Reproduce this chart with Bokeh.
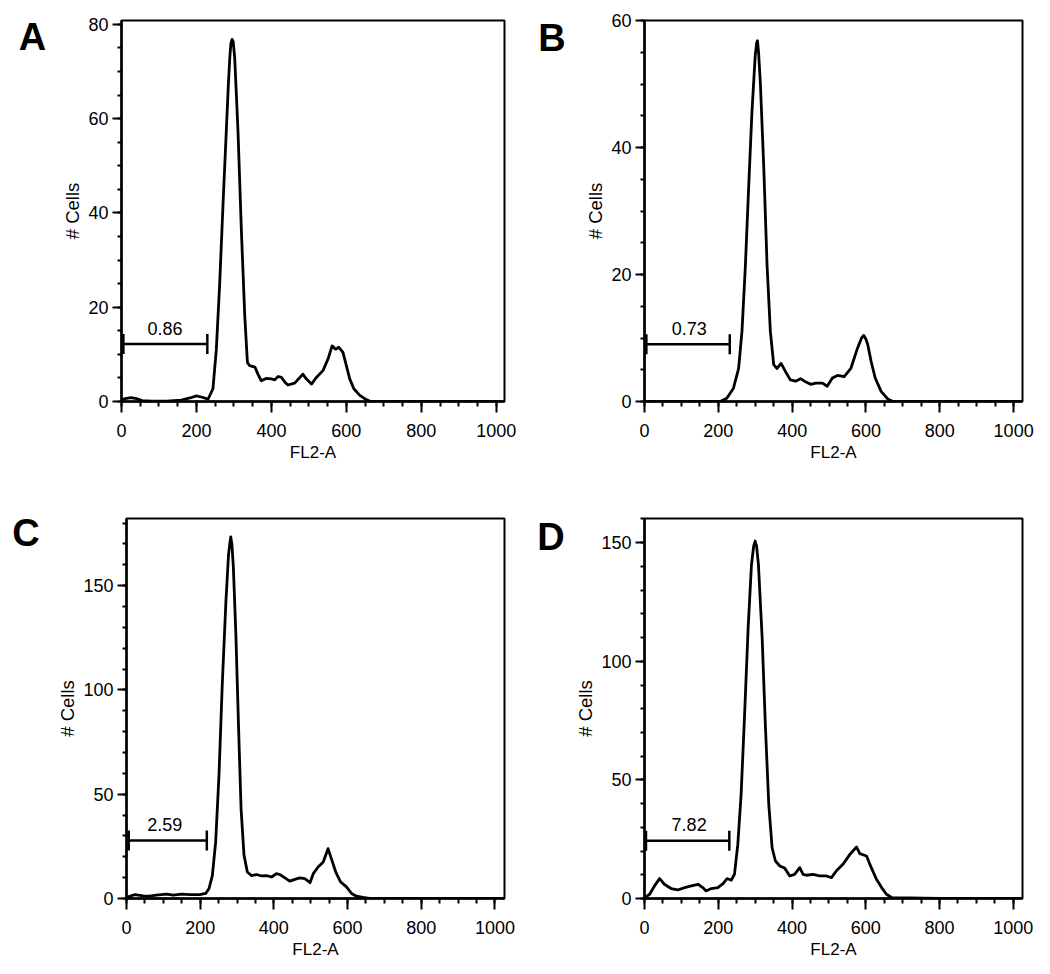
import math
from bokeh.plotting import figure
from bokeh.layouts import column, row
from bokeh.models import FixedTicker, Range1d
from bokeh.core.properties import value
from bokeh.embed import file_html
from bokeh.resources import INLINE

FONT = "Liberation Sans"

# ---------------- data ----------------
x_major = [0, 200, 400, 600, 800, 1000]
x_minor = list(range(0, 1001, 50))

# Panel A
a_x = [0, 10, 25, 40, 55, 80, 120, 160, 185, 200, 215, 231, 244, 253, 262, 271,
       280, 285, 289, 292, 295, 298, 302, 306, 311, 320, 329, 336, 342, 356, 364,
       373, 387, 400, 409, 418, 427, 436, 444, 462, 476, 484, 493, 507, 520, 538,
       551, 562, 571, 580, 591, 600, 609, 620, 636, 653, 665, 700, 800, 900, 1000, 1018]
a_y = [0.3, 0.6, 0.8, 0.6, 0.2, 0.1, 0.1, 0.3, 0.8, 1.2, 0.9, 0.5, 2.7, 11, 25, 42,
       58, 67, 73, 76, 76.8, 76.3, 73, 66, 57, 36, 18, 8.3, 7.6, 7.3, 5.8,
       4.4, 4.9, 4.8, 4.6, 5.3, 5.1, 4.1, 3.5, 3.9, 5.1, 5.8, 4.8, 3.7, 5.1, 6.6,
       9, 11.8, 11.1, 11.5, 10.4, 7.6, 4.8, 2.7, 1.3, 0.4, 0, 0, 0, 0, 0, 0]
a_y_major = [0, 20, 40, 60, 80]
a_y_minor = list(range(0, 81, 5))
a_gate = [5, 229, 12.2]
a_gate_label = "0.86"
a_gate_label_x = 116

# Panel B
b_x = [0, 100, 205, 223, 241, 255, 264, 273, 282, 291, 300, 304, 306, 309, 314, 323,
       332, 341, 350, 359, 370, 382, 395, 409, 423, 436, 450, 464, 482, 495, 509,
       523, 541, 559, 577, 588, 594, 600, 605, 614, 625, 641, 659, 673, 800, 1000, 1020]
b_y = [0, 0, 0, 0.5, 2.1, 5.2, 11, 21, 33.5, 45.5, 54.5, 56.5, 56.8, 55, 50, 37,
       21.5, 11, 5.8, 5.2, 6, 4.7, 3.4, 3.2, 3.6, 3.1, 2.7, 2.9, 2.9, 2.4, 3.7,
       4.1, 3.9, 5.2, 8.4, 10, 10.4, 9.8, 8.9, 6.3, 3.7, 1.6, 0.4, 0, 0, 0, 0]
b_y_major = [0, 20, 40, 60]
b_y_minor = list(range(0, 61, 5))
b_gate = [5, 231, 9.0]
b_gate_label = "0.73"
b_gate_label_x = 121

# Panel C
c_x = [0, 5, 23, 45, 63, 81, 109, 127, 149, 172, 199, 215, 224, 233, 242, 251, 260,
       270, 277, 281, 283, 286, 290, 297, 304, 311, 319, 328, 339, 353, 367, 380,
       394, 407, 416, 430, 443, 457, 470, 484, 498, 507, 520, 534, 547, 556, 568,
       581, 597, 611, 624, 642, 660, 800, 1000, 1022]
c_y = [0.8, 0.8, 1.9, 1.3, 1.1, 1.6, 2.1, 1.6, 2.1, 1.9, 1.9, 2.4, 4.8, 11, 27, 59, 103,
       143, 165, 171, 173.4, 170, 159, 126, 83, 43, 20.7, 12.7, 11, 11.5, 10.8, 11,
       10.3, 11.9, 11.5, 9.9, 8.3, 9.2, 9.9, 9.5, 7.6, 11.9, 15.1, 17.5, 23.9, 19.1, 12.7,
       8, 5.6, 2.4, 1.1, 0.5, 0, 0, 0, 0]
c_y_major = [0, 50, 100, 150]
c_y_minor = list(range(0, 181, 10))
c_gate = [6, 218, 27.8]
c_gate_label = "2.59"
c_gate_label_x = 104

# Panel D
d_x = [0, 14, 27, 41, 54, 72, 90, 109, 127, 145, 158, 167, 181, 199, 213, 224, 235,
       244, 253, 262, 271, 281, 290, 296, 300, 304, 309, 319, 328, 337, 346, 355,
       367, 380, 394, 407, 421, 430, 439, 457, 475, 493, 507, 520, 538, 557, 575,
       584, 602, 615, 629, 643, 656, 670, 800, 1000, 1021]
d_y = [0.4, 1.8, 5.3, 8.4, 6, 4.2, 3.6, 4.6, 5.3, 6, 4.6, 3.2, 4.2, 4.6, 6.3, 8.4, 7.7,
       10.2, 22.8, 43.9, 76, 114, 140.6, 148.5, 150.7, 148.5, 140.6, 110, 72, 39.7, 21.4, 15.8,
       13.7, 12.8, 9.5, 10.2, 13, 10.2, 9.8, 10.2, 9.5, 9.5, 8.8, 11.6, 14.4, 18.6, 21.7,
       18.9, 17.9, 13, 8.1, 4.6, 1.8, 0.4, 0, 0, 0]
d_y_major = [0, 50, 100, 150]
d_y_minor = list(range(0, 161, 10))
d_gate = [4, 230, 24.3]
d_gate_label = "7.82"
d_gate_label_x = 121

# ---------------- layout (pixels) ----------------
LW = 50  # width of the column holding the panel letter
# letter = (centre x within its column, centre y measured from the row top)
specs = {
    "A": dict(w=470, h=470, bl=71, br=16, bt=19, bb=69, xe=1022, ye=80.8, letter=(32, 36)),
    "B": dict(w=470, h=470, bl=74, br=18, bt=20, bb=68, xe=1024, ye=60, letter=(31.5, 37.5)),
    "C": dict(w=470, h=500, bl=76, br=16, bt=48, bb=70, xe=1026, ye=182.2, letter=(25.5, 62.5)),
    "D": dict(w=470, h=500, bl=74, br=18, bt=47, bb=72, xe=1025, ye=160.2, letter=(30.5, 65.5)),
}


def make_letter(name):
    s = specs[name]
    fh = s["h"] - s["bt"] - s["bb"]
    p = figure(width=LW, height=s["h"], x_range=Range1d(0, LW), y_range=Range1d(0, fh),
               output_backend="svg", toolbar_location=None,
               x_axis_location=None, y_axis_location=None,
               min_border_left=0, min_border_right=0,
               min_border_top=s["bt"], min_border_bottom=s["bb"])
    p.grid.visible = False
    p.outline_line_color = None
    p.background_fill_color = "white"
    p.border_fill_color = "white"
    lx, ly = s["letter"]
    p.text(x=[lx], y=[s["bt"] + fh - ly], text=[name], text_align="center",
           text_baseline="middle", text_font=value(FONT),
           text_font_size="38px", text_font_style="bold", text_color="black")
    return p


def make_panel(name, xs, ys, y_major, y_minor, gate, gate_label, gate_label_x):
    s = specs[name]
    fh = s["h"] - s["bt"] - s["bb"]
    p = figure(width=s["w"], height=s["h"],
               x_range=Range1d(0, s["xe"]), y_range=Range1d(0, s["ye"]),
               output_backend="svg", toolbar_location=None,
               min_border_left=s["bl"], min_border_right=s["br"],
               min_border_top=s["bt"], min_border_bottom=s["bb"])
    p.grid.visible = False
    p.background_fill_color = "white"
    p.border_fill_color = "white"
    p.outline_line_color = "black"
    p.outline_line_width = 2
    p.outline_line_alpha = 1

    p.xaxis.ticker = FixedTicker(ticks=x_major, minor_ticks=x_minor)
    p.yaxis.ticker = FixedTicker(ticks=y_major, minor_ticks=y_minor)
    for ax in (p.xaxis[0], p.yaxis[0]):
        ax.axis_line_width = 2.5
        ax.axis_line_color = "black"
        ax.major_tick_line_width = 2
        ax.minor_tick_line_width = 2
        ax.major_tick_line_color = "black"
        ax.minor_tick_line_color = "black"
        ax.major_tick_in = 0
        ax.minor_tick_in = 0
        ax.major_label_text_font = FONT
        ax.major_label_text_font_size = "18px"
        ax.major_label_text_color = "black"
        ax.axis_label_text_font = FONT
        ax.axis_label_text_font_style = "normal"
        ax.axis_label_text_color = "black"
    p.xaxis.axis_label_text_font_size = "17px"
    p.yaxis.axis_label_text_font_size = "18.5px"
    p.xaxis.major_tick_out = 11
    p.xaxis.minor_tick_out = 5
    p.yaxis.major_tick_out = 9
    p.yaxis.minor_tick_out = 4
    p.xaxis.major_label_standoff = 11
    p.yaxis.major_label_standoff = 4
    p.xaxis.axis_label_standoff = 3
    p.yaxis.axis_label_standoff = 2
    p.xaxis.axis_label = "FL2-A"
    p.yaxis.axis_label = "# Cells"

    # histogram curve
    p.line(xs, ys, line_width=2.8, line_color="black", line_join="round")

    # gate marker
    gs, ge, gy = gate
    p.segment(x0=[gs], y0=[gy], x1=[ge], y1=[gy], line_width=2.5, line_color="black")
    p.scatter([gs, ge], [gy, gy], marker="dash", size=20, angle=math.pi / 2,
              line_width=2.5, line_color="black")
    dy = 16 * s["ye"] / fh
    p.text(x=[gate_label_x], y=[gy + dy], text=[gate_label],
           text_align="center", text_baseline="middle",
           text_font=value(FONT), text_font_size="18px", text_color="black")
    return p


pA = make_panel("A", a_x, a_y, a_y_major, a_y_minor, a_gate, a_gate_label, a_gate_label_x)
pB = make_panel("B", b_x, b_y, b_y_major, b_y_minor, b_gate, b_gate_label, b_gate_label_x)
pC = make_panel("C", c_x, c_y, c_y_major, c_y_minor, c_gate, c_gate_label, c_gate_label_x)
pD = make_panel("D", d_x, d_y, d_y_major, d_y_minor, d_gate, d_gate_label, d_gate_label_x)

layout = column(
    row(make_letter("A"), pA, make_letter("B"), pB, spacing=0),
    row(make_letter("C"), pC, make_letter("D"), pD, spacing=0),
    spacing=0,
)

open("out.html", "w").write(file_html(layout, INLINE))
